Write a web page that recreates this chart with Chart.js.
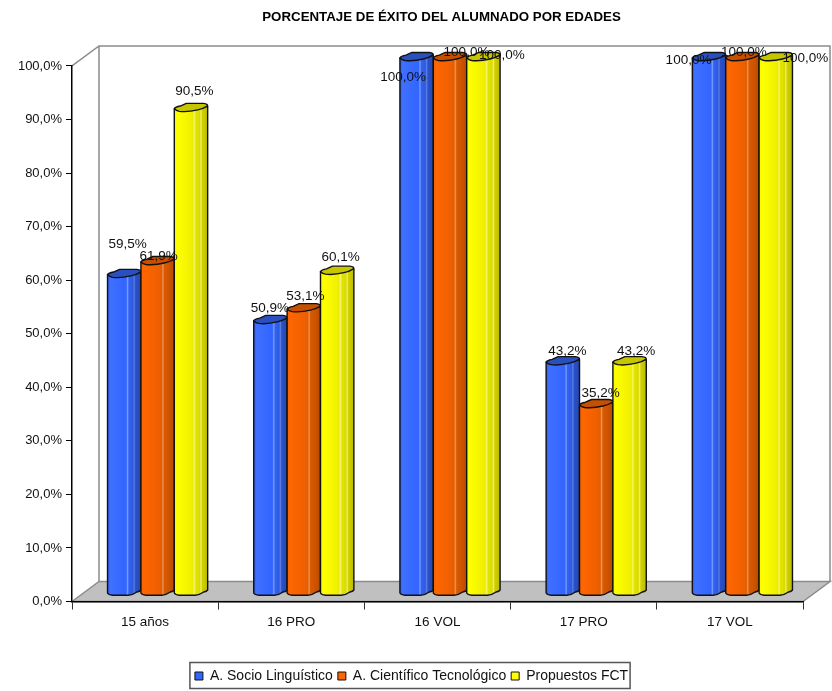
<!DOCTYPE html>
<html>
<head>
<meta charset="utf-8">
<title>Porcentaje de éxito</title>
<script src="https://cdn.jsdelivr.net/npm/chart.js@4/dist/chart.umd.min.js"></script>
<style>
  html, body { margin: 0; padding: 0; background: #fff; }
  canvas { display: block; }
</style>
</head>
<body>
<canvas id="chart1" width="832" height="691"></canvas>
<script>
const categories = ['15 años', '16 PRO', '16 VOL', '17 PRO', '17 VOL'];
const socioLinguistico = [59.5, 50.9, 100, 43.2, 100];
const cientificoTecnologico = [61.9, 53.1, 100, 35.2, 100];
const propuestosFCT = [90.5, 60.1, 100, 43.2, 100];

const FONT = '"Liberation Sans", Arial, sans-serif';
const pct = (v) => v.toFixed(1).replace('.', ',') + '%';

// depth of the fake 3D box, and how far the columns sit behind the axis plane
const WALL_DX = 27, WALL_DY = -20;
const BAR_DX = 12.5, BAR_DY = -8;

// colours per series: flat, cap, and the bands across the column
const looks = [
  { fill: '#3366FF', cap: '#2a50bd', bands: [[0, '#2f5ee8'], [0.08, '#3f70ff'], [0.5, '#3366ff'], [0.56, '#3366ff'], [0.6, '#7d9bff'], [0.64, '#3162f2'], [0.76, '#2e5ade'], [0.8, '#5a7ee4'], [0.84, '#2a50c8'], [1, '#2648b0']] },
  { fill: '#FF6600', cap: '#c75000', bands: [[0, '#f06000'], [0.08, '#ff6600'], [0.5, '#f06000'], [0.62, '#e45e00'], [0.66, '#ea9560'], [0.7, '#da5a00'], [0.85, '#cc5400'], [1, '#b84a00']] },
  { fill: '#FFFF00', cap: '#c6c600', bands: [[0, '#f2f200'], [0.08, '#ffff00'], [0.45, '#f2f200'], [0.55, '#ecec00'], [0.6, '#f4f470'], [0.64, '#e4e400'], [0.76, '#dada00'], [0.8, '#eeee70'], [0.84, '#d0d000'], [1, '#bcbc00']] },
];

// hand placed data labels in the original, [dx, dy] from the top of each bar
const labelNudge = [
  [[16, -39], [12, -21], [-1, 11.5], [17, -18.5], [-8, -5.5]],
  [[13.5, -13.5], [14, -21], [29, -13.5], [17, -19.5], [14, -13.5]],
  [[16, -26], [16, -22], [31, -10.5], [19, -18.5], [42, -7.5]],
];

const box3d = {
  id: 'box3d',
  afterLayout(chart) {
    // title and legend are not centred on the canvas in the original
    chart.titleBlock.left += 4;
    chart.titleBlock.right += 4;
    chart.legend.left += 10;
    chart.legend.right += 10;
    chart.legend.top += 2;
    chart.legend.bottom += 2;
  },
  beforeDraw(chart) {
    const { ctx, chartArea: a } = chart;
    ctx.save();
    ctx.fillStyle = '#C0C0C0';
    ctx.beginPath();
    ctx.moveTo(a.left, a.bottom);
    ctx.lineTo(a.left + WALL_DX, a.bottom + WALL_DY);
    ctx.lineTo(a.right + WALL_DX, a.bottom + WALL_DY);
    ctx.lineTo(a.right, a.bottom);
    ctx.closePath();
    ctx.fill();
    ctx.strokeStyle = '#8c8c8c';
    ctx.lineWidth = 1.5;
    ctx.stroke();
    ctx.beginPath();
    ctx.moveTo(a.left, a.top);
    ctx.lineTo(a.left + WALL_DX, a.top + WALL_DY);
    ctx.lineTo(a.right + WALL_DX, a.top + WALL_DY);
    ctx.lineTo(a.right + WALL_DX, a.bottom + WALL_DY);
    ctx.moveTo(a.left + WALL_DX, a.top + WALL_DY);
    ctx.lineTo(a.left + WALL_DX, a.bottom + WALL_DY);
    ctx.stroke();
    ctx.restore();
  },
  beforeDatasetDraw() {
    return false;
  },
  afterDatasetsDraw(chart) {
    const { ctx } = chart;
    chart.data.datasets.forEach((ds, i) => {
      chart.getDatasetMeta(i).data.forEach((bar) => drawColumn(ctx, bar, looks[i]));
    });
  },
  afterDraw(chart) {
    const { ctx } = chart;
    ctx.save();
    ctx.font = '13.5px ' + FONT;
    ctx.fillStyle = '#111';
    ctx.textAlign = 'center';
    ctx.textBaseline = 'middle';
    chart.data.datasets.forEach((ds, i) => {
      chart.getDatasetMeta(i).data.forEach((bar, j) => {
        const [dx, dy] = labelNudge[i][j];
        ctx.fillText(pct(ds.data[j]), bar.x + dx, bar.y + dy);
      });
    });
    // legend frame
    const hits = chart.legend.legendHitBoxes;
    const last = hits[hits.length - 1];
    ctx.strokeStyle = '#555';
    ctx.lineWidth = 1.5;
    ctx.strokeRect(hits[0].left - 5, hits[0].top - 6.5, last.left + last.width + 7 - hits[0].left, 26);
    ctx.restore();
  },
};

function drawColumn(ctx, bar, look) {
  const w = bar.width;
  const l = bar.x - w / 2 + BAR_DX;
  const r = l + w;
  const top = bar.y + BAR_DY;
  const bot = bar.base + BAR_DY;

  const grad = ctx.createLinearGradient(l, 0, r, 0);
  look.bands.forEach(([stop, colour]) => grad.addColorStop(stop, colour));

  ctx.save();
  ctx.lineWidth = 1.4;
  ctx.strokeStyle = '#111';
  ctx.lineJoin = 'round';

  // body with the slanted foot
  ctx.beginPath();
  ctx.moveTo(l, top);
  ctx.lineTo(l, bot);
  ctx.quadraticCurveTo(l + w * 0.03, bot + 2, l + w * 0.15, bot + 2.2);
  ctx.lineTo(l + w * 0.62, bot + 2.2);
  ctx.quadraticCurveTo(l + w * 0.78, bot + 1.6, l + w * 0.88, bot - 1);
  ctx.quadraticCurveTo(r - 1, bot - 1.6, r, bot - 3);
  ctx.lineTo(r, top - 2.5);
  ctx.closePath();
  ctx.fillStyle = grad;
  ctx.fill();
  ctx.stroke();

  // cap
  ctx.beginPath();
  ctx.moveTo(l, top);
  ctx.quadraticCurveTo(l + 1, top - 2, l + w * 0.18, top - 2.8);
  ctx.lineTo(l + w * 0.36, top - 5.5);
  ctx.lineTo(r - w * 0.12, top - 5.5);
  ctx.quadraticCurveTo(r, top - 5, r, top - 3);
  ctx.quadraticCurveTo(r - w * 0.15, top + 0.2, r - w * 0.3, top + 1);
  ctx.quadraticCurveTo(l + w * 0.4, top + 3.5, l + w * 0.15, top + 2.5);
  ctx.quadraticCurveTo(l + 2, top + 2, l, top);
  ctx.closePath();
  ctx.fillStyle = look.cap;
  ctx.fill();
  ctx.stroke();
  ctx.restore();
}

new Chart(document.getElementById('chart1'), {
  type: 'bar',
  data: {
    labels: categories,
    datasets: [
      { label: 'A. Socio Linguístico', data: socioLinguistico, backgroundColor: looks[0].fill, borderColor: '#111', borderWidth: 1 },
      { label: 'A. Científico Tecnológico', data: cientificoTecnologico, backgroundColor: looks[1].fill, borderColor: '#111', borderWidth: 1 },
      { label: 'Propuestos FCT', data: propuestosFCT, backgroundColor: looks[2].fill, borderColor: '#111', borderWidth: 1 },
    ],
  },
  plugins: [box3d],
  options: {
    responsive: false,
    animation: false,
    categoryPercentage: 0.685,
    barPercentage: 1,
    layout: { padding: { left: 0, right: 29, top: 0, bottom: 0 } },
    scales: {
      x: {
        offset: true,
        afterFit: (s) => { s.height = 60.5; },
        border: { color: '#000', width: 1.5 },
        grid: { drawOnChartArea: false, tickLength: 8, color: '#333', offset: true },
        ticks: { color: '#111', padding: 5, font: { family: FONT, size: 13.5 } },
      },
      y: {
        min: 0,
        max: 100,
        afterFit: (s) => { s.width = 72; },
        border: { color: '#000', width: 1.5 },
        grid: { drawOnChartArea: false, tickLength: 6, color: '#000' },
        ticks: { stepSize: 10, color: '#111', padding: 4, font: { family: FONT, size: 13 }, callback: (v) => pct(v) },
      },
    },
    plugins: {
      tooltip: { enabled: false },
      title: {
        display: true,
        fullSize: false,
        text: 'PORCENTAJE DE ÉXITO DEL ALUMNADO POR EDADES',
        color: '#000',
        font: { family: FONT, size: 13.3, weight: 'bold' },
        padding: { top: 9, bottom: 41 },
      },
      legend: {
        position: 'bottom',
        labels: {
          boxWidth: 8,
          boxHeight: 8,
          padding: 5,
          color: '#111',
          font: { family: FONT, size: 14 },
        },
      },
    },
  },
});
</script>
</body>
</html>
